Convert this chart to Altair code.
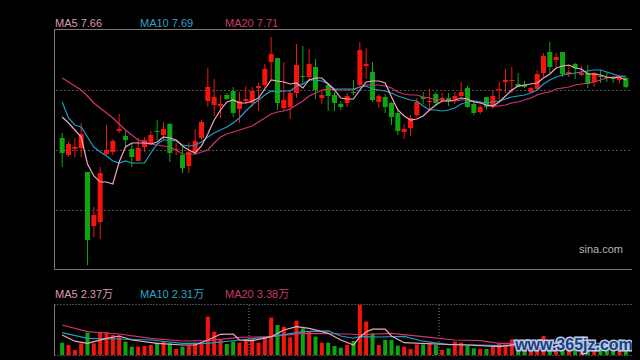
import altair as alt
import pandas as pd

# ---------------- data ----------------
open_ = [7.11, 6.94, 7.00, 7.01, 6.77, 6.23, 6.27, 6.95, 6.97, 7.18,
         7.13, 7.00, 6.88, 7.02, 7.06, 7.18, 7.14, 7.25, 6.99, 6.94,
         6.83, 6.97, 7.11, 7.48, 7.44, 7.43, 7.54, 7.58, 7.40, 7.48,
         7.46, 7.61, 7.64, 7.87, 7.91, 7.41, 7.42, 7.56, 7.73, 7.72,
         7.82, 7.51, 7.64, 7.54, 7.45, 7.46, 7.57, 7.64, 7.83, 7.77,
         7.47, 7.52, 7.46, 7.36, 7.17, 7.21, 7.34, 7.52, 7.47, 7.55,
         7.49, 7.51, 7.50, 7.53, 7.61, 7.45, 7.37, 7.52, 7.42, 7.59,
         7.67, 7.68, 7.65, 7.64, 7.57, 7.60, 7.76, 7.97, 7.89, 7.97,
         7.75, 7.85, 7.74, 7.76, 7.67, 7.73, 7.72, 7.71, 7.69, 7.71]
close = [6.96, 7.05, 7.02, 7.15, 6.09, 6.34, 6.76, 6.99, 7.08, 7.20,
         7.09, 6.92, 7.01, 7.09, 7.14, 7.17, 7.20, 6.96, 7.00, 6.81,
         6.97, 7.08, 7.27, 7.62, 7.52, 7.45, 7.50, 7.36, 7.48, 7.50,
         7.58, 7.63, 7.80, 7.95, 7.46, 7.49, 7.56, 7.84, 7.72, 7.85,
         7.59, 7.54, 7.53, 7.46, 7.42, 7.53, 7.56, 7.99, 7.85, 7.49,
         7.53, 7.42, 7.32, 7.18, 7.20, 7.31, 7.47, 7.50, 7.48, 7.46,
         7.51, 7.48, 7.53, 7.57, 7.42, 7.36, 7.42, 7.42, 7.53, 7.60,
         7.69, 7.69, 7.62, 7.62, 7.61, 7.75, 7.93, 7.82, 7.92, 7.75,
         7.77, 7.81, 7.76, 7.65, 7.76, 7.72, 7.71, 7.70, 7.71, 7.62]
high = [7.16, 7.07, 7.11, 7.26, 6.77, 6.42, 6.82, 7.24, 7.10, 7.35,
        7.18, 7.06, 7.11, 7.12, 7.18, 7.29, 7.27, 7.26, 7.06, 7.02,
        7.07, 7.20, 7.29, 7.81, 7.70, 7.54, 7.56, 7.62, 7.57, 7.63,
        7.62, 7.66, 7.85, 8.12, 7.91, 7.87, 7.59, 8.05, 8.03, 8.00,
        7.90, 7.59, 7.66, 7.57, 7.48, 7.56, 7.69, 8.07, 8.01, 7.87,
        7.55, 7.55, 7.47, 7.41, 7.25, 7.34, 7.51, 7.57, 7.60, 7.57,
        7.56, 7.56, 7.57, 7.67, 7.63, 7.47, 7.44, 7.52, 7.59, 7.67,
        7.80, 7.82, 7.76, 7.68, 7.62, 7.79, 7.96, 8.07, 7.96, 7.97,
        7.84, 7.86, 7.83, 7.84, 7.77, 7.79, 7.77, 7.73, 7.73, 7.72]
low = [6.82, 6.92, 6.92, 6.92, 5.84, 6.12, 6.10, 6.93, 6.94, 7.16,
       7.02, 6.82, 6.88, 6.97, 7.04, 7.09, 7.10, 6.87, 6.94, 6.76,
       6.76, 6.94, 7.09, 7.42, 7.33, 7.31, 7.49, 7.32, 7.26, 7.45,
       7.42, 7.38, 7.61, 7.70, 7.39, 7.38, 7.30, 7.51, 7.64, 7.69,
       7.50, 7.45, 7.38, 7.38, 7.39, 7.42, 7.54, 7.63, 7.70, 7.47,
       7.41, 7.36, 7.24, 7.14, 7.10, 7.13, 7.32, 7.45, 7.39, 7.44,
       7.47, 7.43, 7.45, 7.51, 7.41, 7.34, 7.35, 7.39, 7.40, 7.49,
       7.56, 7.56, 7.62, 7.61, 7.56, 7.59, 7.72, 7.75, 7.82, 7.72,
       7.72, 7.70, 7.73, 7.61, 7.62, 7.66, 7.67, 7.66, 7.66, 7.61]
# volume in 万
volume = [3.58, 2.90, 1.45, 3.38, 6.48, 3.38, 6.48, 6.57, 5.80, 5.61,
          3.87, 2.42, 2.42, 2.61, 2.90, 3.58, 4.06, 3.38, 1.74, 2.42,
          2.71, 3.58, 3.38, 11.12, 6.77, 4.35, 3.19, 3.87, 3.58, 4.54,
          4.64, 3.58, 5.03, 10.83, 8.70, 8.22, 5.12, 9.96, 7.73, 6.77,
          5.32, 3.58, 3.58, 2.61, 2.13, 2.90, 4.06, 14.50, 9.67, 6.28,
          2.90, 4.35, 4.35, 2.71, 2.42, 1.74, 3.09, 3.09, 3.38, 2.90,
          1.45, 1.93, 3.87, 3.58, 2.61, 1.93, 1.74, 1.74, 2.42, 3.19,
          3.09, 4.54, 2.80, 3.00, 2.20, 3.60, 5.50, 3.00, 2.60, 2.80,
          2.00, 2.50, 1.90, 2.60, 2.25, 2.20, 2.50, 2.10, 2.40, 2.65]

ma5 = [7.32, 7.26, 7.19, 7.12, 6.85, 6.73, 6.67, 6.67, 6.65, 6.87,
       7.02, 7.06, 7.06, 7.06, 7.05, 7.07, 7.12, 7.11, 7.09, 7.03,
       6.99, 6.96, 7.03, 7.15, 7.29, 7.39, 7.47, 7.49, 7.46, 7.46,
       7.48, 7.51, 7.60, 7.69, 7.68, 7.67, 7.65, 7.66, 7.61, 7.69,
       7.71, 7.71, 7.65, 7.59, 7.51, 7.50, 7.50, 7.59, 7.67, 7.68,
       7.68, 7.66, 7.52, 7.39, 7.33, 7.29, 7.30, 7.33, 7.39, 7.44,
       7.48, 7.48, 7.49, 7.51, 7.50, 7.47, 7.46, 7.44, 7.43, 7.47,
       7.53, 7.59, 7.63, 7.64, 7.65, 7.66, 7.71, 7.75, 7.81, 7.83,
       7.84, 7.81, 7.80, 7.75, 7.75, 7.74, 7.72, 7.71, 7.72, 7.69]
ma10 = [7.47, 7.31, 7.24, 7.22, 7.12, 7.02, 6.97, 6.93, 6.88, 6.86,
        6.88, 6.86, 6.86, 6.86, 6.96, 7.05, 7.09, 7.09, 7.08, 7.04,
        7.03, 7.04, 7.07, 7.12, 7.16, 7.19, 7.22, 7.26, 7.31, 7.38,
        7.44, 7.49, 7.54, 7.58, 7.57, 7.58, 7.58, 7.63, 7.65, 7.69,
        7.69, 7.68, 7.65, 7.60, 7.60, 7.60, 7.60, 7.62, 7.63, 7.60,
        7.59, 7.58, 7.56, 7.53, 7.51, 7.49, 7.48, 7.43, 7.39, 7.39,
        7.38, 7.39, 7.41, 7.45, 7.47, 7.48, 7.47, 7.46, 7.47, 7.48,
        7.50, 7.52, 7.53, 7.54, 7.56, 7.59, 7.65, 7.69, 7.72, 7.74,
        7.75, 7.76, 7.77, 7.78, 7.79, 7.79, 7.77, 7.75, 7.73, 7.72]
ma20 = [7.71, 7.67, 7.63, 7.59, 7.53, 7.46, 7.41, 7.36, 7.31, 7.25,
        7.19, 7.14, 7.09, 7.07, 7.05, 7.04, 7.03, 7.02, 6.99, 6.95,
        6.95, 6.95, 6.97, 6.99, 7.06, 7.12, 7.15, 7.17, 7.19, 7.21,
        7.23, 7.27, 7.31, 7.35, 7.37, 7.38, 7.40, 7.44, 7.48, 7.53,
        7.56, 7.59, 7.60, 7.59, 7.59, 7.59, 7.59, 7.62, 7.64, 7.64,
        7.64, 7.63, 7.61, 7.57, 7.55, 7.54, 7.54, 7.52, 7.51, 7.49,
        7.49, 7.48, 7.48, 7.49, 7.49, 7.48, 7.47, 7.45, 7.43, 7.43,
        7.44, 7.46, 7.47, 7.49, 7.51, 7.54, 7.56, 7.57, 7.60, 7.61,
        7.62, 7.64, 7.65, 7.66, 7.67, 7.69, 7.71, 7.72, 7.73, 7.73]

vma5_idx = [0, 2, 4, 7, 9, 11, 15, 19, 21, 23, 25, 27, 28, 30, 33, 35, 37, 39, 42,
            44, 46, 47, 48, 49, 51, 52, 54, 59, 64, 69, 72, 76, 79, 83, 86, 89]
vma5_val = [5.80, 4.00, 3.39, 4.84, 5.51, 4.35, 3.39, 2.90, 2.90, 4.35, 6.00, 6.09,
            4.35, 4.15, 5.31, 7.25, 8.20, 7.74, 6.29, 4.35, 2.90, 5.24, 6.65, 7.48,
            7.50, 5.50, 3.57, 3.19, 2.90, 2.41, 3.20, 3.42, 3.50, 2.36, 2.29, 2.37]
vma10_idx = [0, 4, 9, 14, 19, 23, 28, 33, 38, 42, 44, 46, 47, 50, 54, 57, 61, 66,
             71, 76, 80, 84, 89]
vma10_val = [6.47, 4.84, 4.64, 4.35, 3.39, 3.39, 4.35, 5.31, 6.76, 6.98, 5.50, 4.86,
             5.32, 5.22, 5.41, 4.00, 3.00, 2.90, 2.61, 3.20, 3.20, 2.88, 2.31]
vma20_idx = [0, 4, 9, 14, 19, 23, 28, 33, 38, 45, 47, 52, 57, 62, 66, 69, 75, 80, 85, 89]
vma20_val = [8.70, 6.76, 6.09, 4.84, 4.06, 4.15, 5.13, 5.31, 6.29, 6.09, 5.87, 6.29,
             5.31, 4.35, 4.15, 3.39, 3.40, 3.45, 3.40, 3.38]

grid_prices = [7.59, 6.99, 6.39]
month_breaks = [29.5, 59.5]

price_labels = ["MA5 7.66", "MA10 7.69", "MA20 7.71"]
vol_labels = ["MA5 2.37万", "MA10 2.31万", "MA20 3.38万"]
brand = "sina.com"
watermark = "www.365jz.com"

# ---------------- page background (black like the reference) ----------------
_CSS = ("<style>html,body{background:#000 !important;overflow:hidden !important;}"
        "#vis{display:block !important;width:auto !important;}"
        ".vega-embed svg{max-width:none !important;}</style>")


def _wrap(fn):
    def inner(*a, **k):
        out = fn(*a, **k)
        if isinstance(out, str) and "<style" not in out[:0]:
            if "<head>" in out:
                return out.replace("<head>", "<head>" + _CSS, 1)
            return _CSS + out
        if isinstance(out, dict) and isinstance(out.get("text/html"), str):
            h = out["text/html"]
            out = dict(out)
            out["text/html"] = h.replace("<head>", "<head>" + _CSS, 1) if "<head>" in h else _CSS + h
        return out
    inner._wrapped = True
    return inner


try:
    import importlib
    _patched = False
    for _mname in ("altair.utils.mimebundle", "altair.utils.save", "altair.utils.html"):
        try:
            _m = importlib.import_module(_mname)
        except Exception:
            continue
        _f = getattr(_m, "spec_to_html", None)
        if _f is not None and not getattr(_f, "_wrapped", False):
            _m.spec_to_html = _wrap(_f)
except Exception:
    pass

# ---------------- tables ----------------
n = len(open_)
df = pd.DataFrame({"i": list(range(n)), "open": open_, "high": high, "low": low,
                   "close": close, "vol": volume})
df["dir"] = ["up" if c >= o else "down" for o, c in zip(open_, close)]

RED = "#f5150c"
GREEN = "#0ea60e"
C5, C10, C20 = "#f0a8c0", "#1e9fc3", "#d2336f"
T5, T10, T20 = "#d99cae", "#2ea3c4", "#c9396d"
FRAME = "#7a7a7a"
FONT = "Liberation Sans, Noto Sans CJK SC"

W, H = 580, 326
MAIN_H = 240
VT, VB = 275, 326

xs = alt.Scale(domain=[-0.5, n - 0.5], nice=False, zero=False)
X = alt.X("i:Q", scale=xs, axis=None)
yP = alt.Scale(domain=[5.80, 8.20], range=[MAIN_H, 0], nice=False, zero=False)
yV = alt.Scale(domain=[0, 14.5], range=[VB, VT + 1], nice=False, zero=True)
col = alt.Color("dir:N", scale=alt.Scale(domain=["up", "down"], range=[RED, GREEN]), legend=None)

one = pd.DataFrame({"k": [0]})
layers = []

# main frame + grid
layers.append(alt.Chart(pd.DataFrame({"p": grid_prices})).mark_rule(
    color="#505050", strokeDash=[2, 2], strokeWidth=1, yOffset=0.5).encode(
    y=alt.Y("p:Q", scale=yP, axis=None)))
layers.append(alt.Chart(one).mark_rect(fillOpacity=0, stroke=FRAME, strokeWidth=1).encode(
    x=alt.value(0.5), x2=alt.value(580.5), y=alt.value(0.5), y2=alt.value(240.5)))

# candles
layers.append(alt.Chart(df).mark_rule(strokeWidth=1).encode(
    x=X, y=alt.Y("high:Q", scale=yP, axis=None), y2="low:Q", color=col))
layers.append(alt.Chart(df).mark_bar(size=5).encode(
    x=X, y=alt.Y("open:Q", scale=yP, axis=None), y2="close:Q", color=col))

# price moving averages
for vals, c in [(ma20, C20), (ma10, C10), (ma5, C5)]:
    d = pd.DataFrame({"i": list(range(len(vals))), "v": vals})
    layers.append(alt.Chart(d).mark_line(strokeWidth=1.2, color=c).encode(
        x=X, y=alt.Y("v:Q", scale=yP, axis=None)))

# volume panel frame
layers.append(alt.Chart(one).mark_rule(color="#8a8a8a", strokeDash=[1, 2]).encode(
    x=alt.value(0.5), x2=alt.value(580.5), y=alt.value(VT + 0.5)))
layers.append(alt.Chart(one).mark_rule(color="#8a8a8a", strokeDash=[1, 2]).encode(
    x=alt.value(0.5), x2=alt.value(580.5), y=alt.value(VB + 0.5)))
layers.append(alt.Chart(one).mark_rule(color=FRAME).encode(
    x=alt.value(0.5), y=alt.value(VT + 0.5), y2=alt.value(VB + 0.5)))
layers.append(alt.Chart(one).mark_rule(color=FRAME).encode(
    x=alt.value(580.5), y=alt.value(VT + 0.5), y2=alt.value(VB + 0.5)))
layers.append(alt.Chart(pd.DataFrame({"i": month_breaks})).mark_rule(
    color="#8a8a8a", strokeDash=[1, 2]).encode(x=X, y=alt.value(VT + 1), y2=alt.value(VB)))

# volume bars
layers.append(alt.Chart(df).mark_bar(size=4).encode(
    x=X, y=alt.Y("vol:Q", scale=yV, axis=None), color=col))

# volume moving averages
for ix, vals, c in [(vma20_idx, vma20_val, C20), (vma10_idx, vma10_val, C10), (vma5_idx, vma5_val, C5)]:
    d = pd.DataFrame({"i": ix, "v": vals})
    layers.append(alt.Chart(d).mark_line(strokeWidth=1.2, color=c).encode(
        x=X, y=alt.Y("v:Q", scale=yV, axis=None)))

# legends (text)
for lab, xp, c in zip(price_labels, [1, 86, 171], [T5, T10, T20]):
    layers.append(alt.Chart(one).mark_text(align="left", baseline="alphabetic", font=FONT,
                                           fontSize=11, color=c).encode(
        x=alt.value(xp), y=alt.value(-2), text=alt.value(lab)))
for lab, xp, c in zip(vol_labels, [1, 86, 171], [T5, T10, T20]):
    layers.append(alt.Chart(one).mark_text(align="left", baseline="alphabetic", font=FONT,
                                           fontSize=11, color=c).encode(
        x=alt.value(xp), y=alt.value(269), text=alt.value(lab)))

layers.append(alt.Chart(one).mark_text(align="right", baseline="alphabetic", font=FONT,
                                       fontSize=11, color="#b4b4b4").encode(
    x=alt.value(569), y=alt.value(224), text=alt.value(brand)))

# watermark
layers.append(alt.Chart(one).mark_text(align="center", baseline="alphabetic", font="Liberation Sans",
                                       fontSize=16, fontWeight="bold", fill="#b8cbe8",
                                       stroke="#b8cbe8", strokeWidth=3).encode(
    x=alt.value(520), y=alt.value(321), text=alt.value(watermark)))
layers.append(alt.Chart(one).mark_text(align="center", baseline="alphabetic", font="Liberation Sans",
                                       fontSize=16, fontWeight="bold", fill="#1d3c7c").encode(
    x=alt.value(520), y=alt.value(321), text=alt.value(watermark)))

chart = alt.layer(*layers).resolve_scale(y="independent").properties(
    width=W, height=H,
    padding={"left": 46, "top": 21, "right": 6, "bottom": 5},
    autosize=alt.AutoSizeParams(type="none"),
).configure(background="#000000").configure_view(strokeWidth=0)

chart.save("out.html", embed_options={"renderer": "svg", "actions": False})
